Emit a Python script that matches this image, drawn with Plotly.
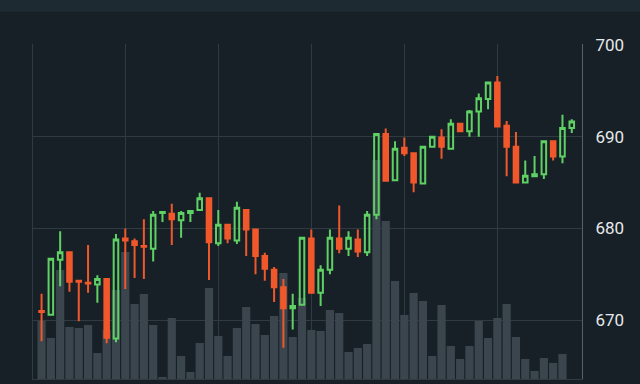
import plotly.graph_objects as go

# session index (no date labels are shown on the chart)
sessions = list(range(58))

opens = [671.0, 670.6, 676.6, 677.4, 674.3, 674.1, 673.9, 674.5, 668.0, 678.9,
         678.6, 678.1, 677.8, 681.7, 681.6, 680.9, 681.7, 682.0, 683.3, 678.4,
         680.4, 678.7, 682.0, 679.9, 677.0, 675.5, 673.6, 671.3, 671.7, 678.9,
         673.0, 675.5, 678.9, 677.8, 678.8, 677.4, 681.5, 690.3, 685.25, 688.8,
         688.2, 684.9, 688.9, 689.9, 688.7, 691.4, 690.6, 692.75, 694.1, 695.9,
         691.2, 688.9, 685.0, 685.7, 685.9, 689.5, 687.85, 690.95]
highs = [672.9, 676.8, 679.7, 677.5, 674.35, 678.2, 674.9, 674.6, 679.4, 680.0,
         678.9, 681.0, 681.9, 681.9, 682.7, 681.9, 682.0, 683.9, 683.4, 682.0,
         680.5, 682.9, 682.1, 680.0, 677.35, 675.8, 674.5, 672.9, 679.1, 679.9,
         676.0, 679.9, 682.5, 679.7, 679.9, 681.9, 690.3, 690.9, 689.5, 689.9,
         688.3, 689.0, 690.1, 690.8, 691.9, 691.5, 692.9, 694.7, 696.0, 696.6,
         691.7, 690.5, 687.4, 687.9, 689.6, 689.6, 692.4, 691.9]
lows = [667.7, 670.5, 673.7, 673.1, 669.9, 673.0, 671.9, 667.5, 667.6, 673.4,
        674.6, 674.5, 676.4, 680.7, 678.2, 679.0, 680.7, 681.9, 674.4, 678.1,
        678.4, 678.3, 677.0, 675.0, 674.3, 672.0, 667.0, 669.0, 671.6, 673.0,
        671.55, 675.0, 677.3, 677.0, 676.9, 677.0, 681.0, 685.1, 685.2, 687.9,
        683.95, 684.8, 688.8, 687.6, 688.6, 690.5, 690.0, 690.0, 693.0, 691.0,
        685.7, 684.9, 684.9, 685.6, 685.4, 687.4, 687.1, 690.4]
closes = [670.9, 676.7, 677.4, 674.2, 674.2, 674.0, 674.5, 668.1, 678.8, 678.7,
          678.2, 678.0, 681.5, 681.8, 681.0, 681.7, 681.9, 683.3, 678.5, 680.4,
          678.9, 682.25, 679.9, 677.0, 675.6, 673.6, 671.3, 671.55, 679.0, 673.0,
          675.5, 679.0, 677.8, 679.0, 677.5, 681.5, 690.3, 685.2, 688.7, 688.2,
          685.0, 688.9, 690.0, 688.9, 691.4, 690.6, 692.75, 694.2, 695.9, 691.1,
          688.9, 685.0, 685.75, 685.9, 689.5, 687.85, 690.95, 691.65]
volumes = [58, 41, 109, 52, 51, 54, 26, 49, 89, 127,
           75, 85, 54, 2, 61, 23, 7, 36, 91, 43,
           23, 51, 72, 55, 44, 63, 106, 42, 81, 49,
           48, 69, 66, 27, 31, 35, 219, 158, 98, 64,
           86, 78, 23, 74, 33, 20, 33, 58, 41, 61,
           75, 42, 20, 8, 21, 16, 25, 0]

price_ticks = [670, 680, 690, 700]
grid_sessions = [9, 19, 29, 39, 49]

BG = "#172026"
GRID = "#2f3a41"
UP = "#5fd164"
DOWN = "#f0582c"
VOL = "#3a454d"

fig = go.Figure()

fig.add_trace(go.Bar(
    x=sessions, y=volumes, marker=dict(color=VOL, line=dict(width=0)),
    yaxis="y", hoverinfo="skip", showlegend=False,
))

fig.add_trace(go.Candlestick(
    x=sessions, open=opens, high=highs, low=lows, close=closes,
    yaxis="y2", showlegend=False,
    increasing=dict(line=dict(color=UP, width=2), fillcolor="rgba(0,0,0,0)"),
    decreasing=dict(line=dict(color=DOWN, width=2), fillcolor=DOWN),
    whiskerwidth=0,
))

fig.update_layout(
    width=640, height=384,
    paper_bgcolor=BG, plot_bgcolor=BG,
    margin=dict(l=33, r=58, t=44, b=5),
    bargap=0.12,
    font=dict(family="Roboto", size=17, color="#e6e9eb"),
    xaxis=dict(
        range=[-0.92, 58.1], tickvals=grid_sessions, showticklabels=False,
        showgrid=True, gridcolor=GRID, gridwidth=1, zeroline=False,
        showline=True, linecolor=GRID, linewidth=1,
        rangeslider=dict(visible=False), fixedrange=True,
    ),
    yaxis=dict(
        range=[0, 335], side="left", showgrid=False, showticklabels=False,
        zeroline=False, showline=True, linecolor=GRID, linewidth=1,
    ),
    yaxis2=dict(
        range=[663.6, 700.1], overlaying="y", side="right",
        tickvals=price_ticks, ticktext=[str(v) for v in price_ticks],
        showgrid=True, gridcolor=GRID, gridwidth=1, zeroline=False,
        showline=True, linecolor="#56626a", linewidth=1,
        ticks="", ticklabelstandoff=9,
        tickfont=dict(family="Roboto", size=17, color="#e6e9eb"),
    ),
    shapes=[dict(type="rect", xref="paper", yref="paper",
                 x0=-0.07, x1=1.12, y0=1.096, y1=1.14,
                 fillcolor="#1d2a32", line=dict(width=0), layer="below")],
)

fig.write_html(
    "out.html",
    config={"displayModeBar": False},
    post_script="document.body.style.margin='0';document.body.style.background='#172026';",
)
